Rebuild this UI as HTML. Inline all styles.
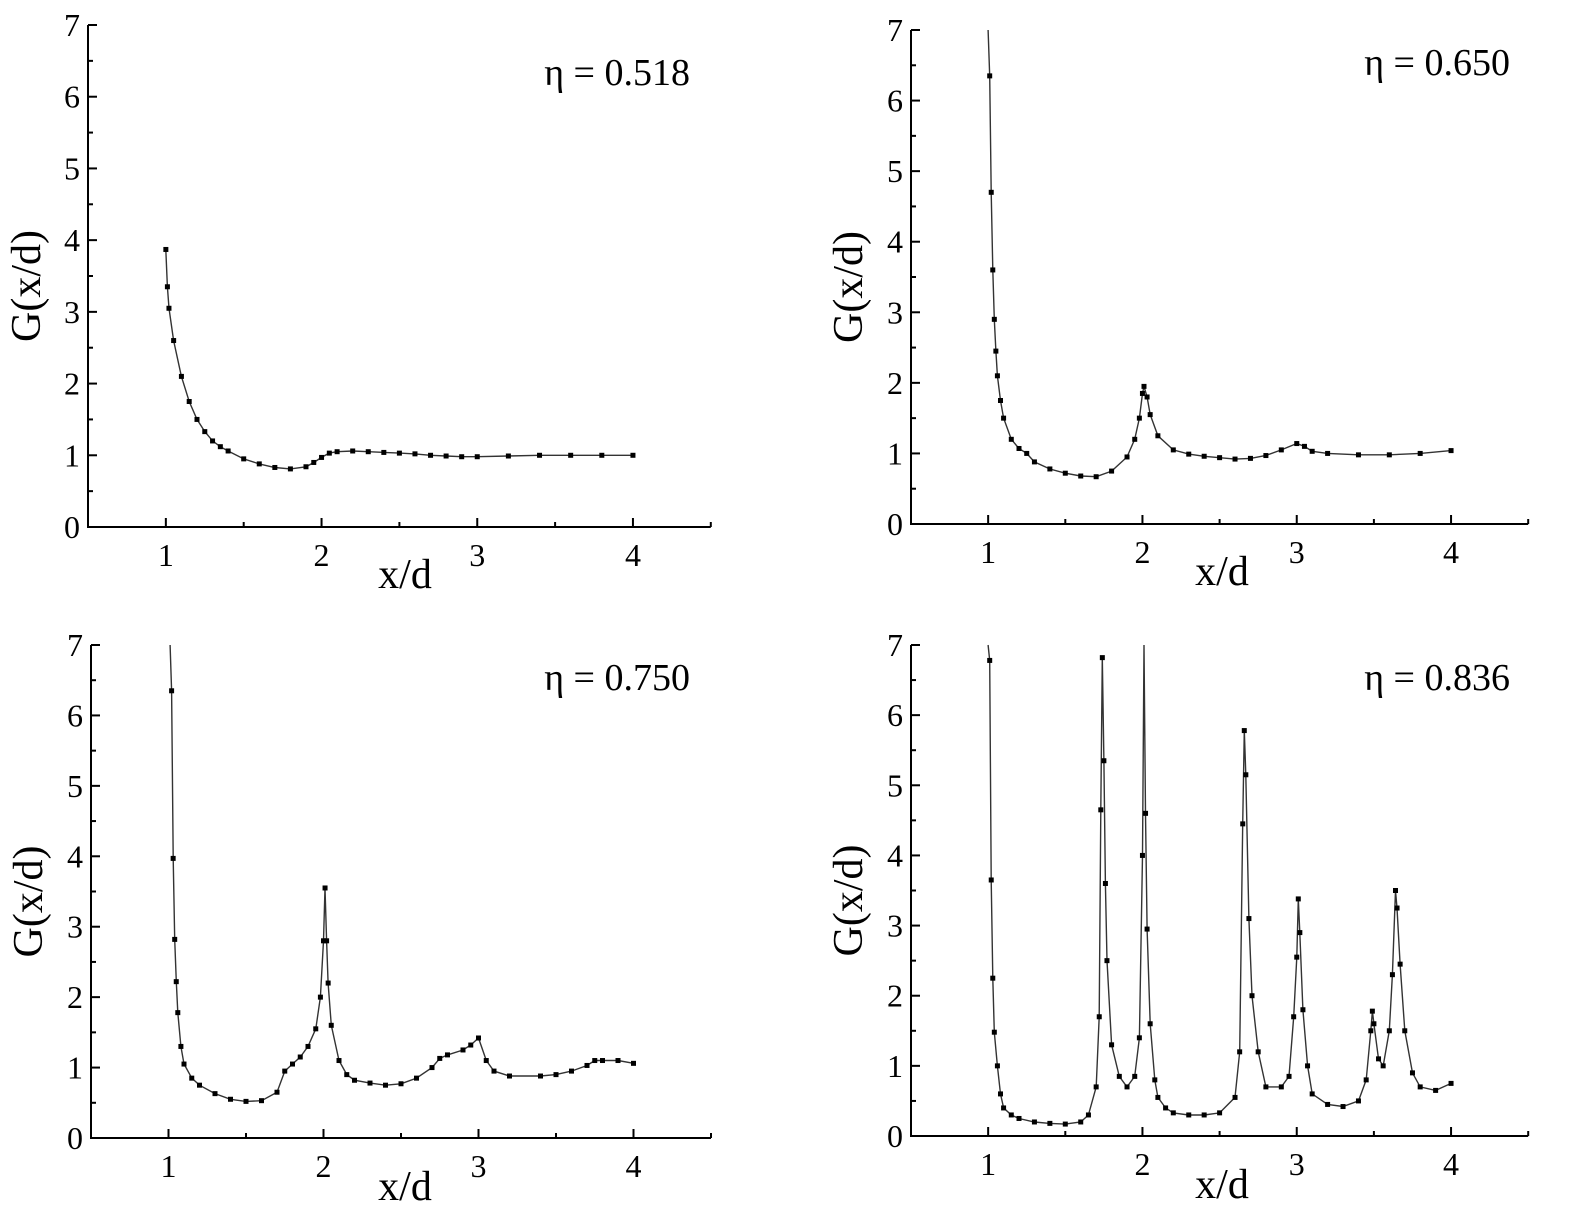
<!DOCTYPE html>
<html><head><meta charset="utf-8"><style>
html,body{margin:0;padding:0;background:#fff}
svg{display:block;font-family:"Liberation Serif",serif}
</style></head><body>
<svg id="fig" width="1583" height="1225" viewBox="0 0 1583 1225"></svg>
<script>
const x518=[1.0,1.01,1.02,1.05,1.1,1.15,1.2,1.25,1.3,1.35,1.4,1.5,1.6,1.7,1.8,1.9,1.95,2.0,2.05,2.1,2.2,2.3,2.4,2.5,2.6,2.7,2.8,2.9,3.0,3.2,3.4,3.6,3.8,4.0];
const y518=[3.87,3.35,3.05,2.6,2.1,1.75,1.5,1.33,1.2,1.12,1.06,0.95,0.88,0.83,0.81,0.84,0.9,0.97,1.03,1.05,1.06,1.05,1.04,1.03,1.02,1.0,0.99,0.98,0.98,0.99,1.0,1.0,1.0,1.0];
const x650=[1.0,1.01,1.02,1.03,1.04,1.05,1.06,1.08,1.1,1.15,1.2,1.25,1.3,1.4,1.5,1.6,1.7,1.8,1.9,1.95,1.98,2.0,2.01,2.03,2.05,2.1,2.2,2.3,2.4,2.5,2.6,2.7,2.8,2.9,3.0,3.05,3.1,3.2,3.4,3.6,3.8,4.0];
const y650=[7.0,6.35,4.7,3.6,2.9,2.45,2.1,1.75,1.5,1.2,1.07,1.0,0.88,0.78,0.72,0.68,0.67,0.75,0.95,1.2,1.5,1.85,1.95,1.8,1.55,1.25,1.05,0.99,0.96,0.94,0.92,0.93,0.97,1.05,1.14,1.1,1.03,1.0,0.98,0.98,1.0,1.04];
const x750=[1.01,1.02,1.03,1.04,1.05,1.06,1.08,1.1,1.15,1.2,1.3,1.4,1.5,1.6,1.7,1.75,1.8,1.85,1.9,1.95,1.98,2.0,2.01,2.02,2.03,2.05,2.1,2.15,2.2,2.3,2.4,2.5,2.6,2.7,2.75,2.8,2.9,2.95,3.0,3.05,3.1,3.2,3.4,3.5,3.6,3.7,3.75,3.8,3.9,4.0];
const y750=[7.0,6.35,3.97,2.82,2.22,1.78,1.3,1.05,0.85,0.75,0.63,0.55,0.52,0.53,0.65,0.95,1.05,1.15,1.3,1.55,2.0,2.8,3.55,2.8,2.2,1.6,1.1,0.9,0.82,0.78,0.75,0.77,0.85,1.0,1.13,1.18,1.25,1.32,1.42,1.1,0.95,0.88,0.88,0.9,0.95,1.03,1.1,1.1,1.1,1.06];
const x836=[1.0,1.01,1.02,1.03,1.04,1.06,1.08,1.1,1.15,1.2,1.3,1.4,1.5,1.6,1.65,1.7,1.72,1.73,1.74,1.75,1.76,1.77,1.8,1.85,1.9,1.95,1.98,2.0,2.01,2.02,2.03,2.05,2.08,2.1,2.15,2.2,2.3,2.4,2.5,2.6,2.63,2.65,2.66,2.67,2.69,2.71,2.75,2.8,2.9,2.95,2.98,3.0,3.01,3.02,3.04,3.07,3.1,3.2,3.3,3.4,3.45,3.48,3.49,3.5,3.53,3.56,3.6,3.62,3.64,3.65,3.67,3.7,3.75,3.8,3.9,4.0];
const y836=[7.0,6.78,3.65,2.25,1.48,1.0,0.6,0.4,0.3,0.25,0.2,0.18,0.17,0.2,0.3,0.7,1.7,4.65,6.82,5.35,3.6,2.5,1.3,0.85,0.7,0.85,1.4,4.0,7.0,4.6,2.95,1.6,0.8,0.55,0.4,0.33,0.3,0.3,0.33,0.55,1.2,4.45,5.78,5.15,3.1,2.0,1.2,0.7,0.7,0.85,1.7,2.55,3.38,2.9,1.8,1.0,0.6,0.45,0.42,0.5,0.8,1.5,1.78,1.6,1.1,1.0,1.5,2.3,3.5,3.25,2.45,1.5,0.9,0.7,0.65,0.75];
const xTicks=[1,2,3,4];
const yTicks=[0,1,2,3,4,5,6,7];
const etaLabels=["η = 0.518","η = 0.650","η = 0.750","η = 0.836"];

const NS="http://www.w3.org/2000/svg";
const svg=document.getElementById('fig');
function mk(tag,attrs,parent){const e=document.createElementNS(NS,tag);for(const k in attrs)e.setAttribute(k,attrs[k]);(parent||svg).appendChild(e);return e;}

const panels=[
 {xs:x518,ys:y518,L:88,U:155.7,Y0:527,Y7:25,lab:etaLabels[0],ylx:40,xlx:405,xly:588,ex:690,ey:85},
 {xs:x650,ys:y650,L:911,U:154.3,Y0:524,Y7:30,lab:etaLabels[1],ylx:862,xlx:1222,xly:585,ex:1510,ey:75},
 {xs:x750,ys:y750,L:91,U:155,Y0:1138,Y7:645,lab:etaLabels[2],ylx:42,xlx:405,xly:1200,ex:690,ey:690},
 {xs:x836,ys:y836,L:911,U:154.3,Y0:1136,Y7:645,lab:etaLabels[3],ylx:862,xlx:1222,xly:1198,ex:1510,ey:690}
];
panels.forEach((p,i)=>{
 const g=mk('g',{});
 
 
 const sx=v=>p.L+(v-0.5)*p.U;
 const sy=v=>p.Y0-(v)*(p.Y0-p.Y7)/7;
 const R=sx(4.5);
 const ax=mk('path',{d:`M${p.L},${p.Y7} V${p.Y0} H${R}`,fill:'none',stroke:'#000','stroke-width':2},g);
 
 
 xTicks.forEach(t=>{
  mk('line',{x1:sx(t),x2:sx(t),y1:p.Y0,y2:p.Y0-9,stroke:'#000','stroke-width':2},g);
  mk('line',{x1:sx(t+0.5),x2:sx(t+0.5),y1:p.Y0,y2:p.Y0-5,stroke:'#000','stroke-width':2},g);
  const tl=mk('text',{x:sx(t),y:p.Y0+39,'font-size':32,'text-anchor':'middle'},g);tl.textContent=t;
  
  
 });
 yTicks.forEach(t=>{
  mk('line',{x1:p.L,x2:p.L+9,y1:sy(t),y2:sy(t),stroke:'#000','stroke-width':2},g);
  if(t<7) mk('line',{x1:p.L,x2:p.L+5,y1:sy(t+0.5),y2:sy(t+0.5),stroke:'#000','stroke-width':2},g);
  const tl=mk('text',{x:p.L-8,y:sy(t)+11,'font-size':32,'text-anchor':'end'},g);tl.textContent=t;
  
  
 });
 const yl=mk('text',{x:p.ylx,y:(p.Y0+p.Y7)/2+10,'font-size':42,'text-anchor':'middle',transform:`rotate(-90 ${p.ylx} ${(p.Y0+p.Y7)/2+10})`},g);
 yl.textContent='G(x/d)';
 
 
 const xl=mk('text',{x:p.xlx,y:p.xly,'font-size':42,'text-anchor':'middle'},g);
 xl.textContent='x/d';
 
 
 const el=mk('text',{x:p.ex,y:p.ey,'font-size':38,'text-anchor':'end'},g);
 el.textContent=p.lab;
 
 
 const cy=v=>sy(Math.min(v,7));
 const d=p.xs.map((x,k)=>(k?'L':'M')+sx(x).toFixed(1)+','+cy(p.ys[k]).toFixed(1)).join(' ');
 const ln=mk('path',{d:d,fill:'none',stroke:'#333','stroke-width':1.4},g);
 
 
 p.xs.forEach((x,k)=>{
  if(p.ys[k]>=7) return;
  const m=mk('rect',{x:sx(x)-2.5,y:cy(p.ys[k])-2.5,width:5,height:5,fill:'#000'},g);
  
  
 });
});
</script>
</body></html>
